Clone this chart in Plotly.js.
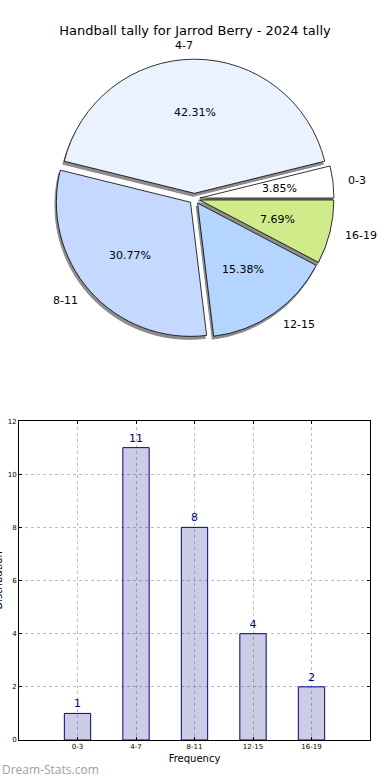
<!DOCTYPE html>
<html>
<head>
<meta charset="utf-8">
<script src="https://cdn.plot.ly/plotly-3.0.1.min.js"></script>
<style>html,body{margin:0;padding:0;background:#fff;}#chart{width:390px;height:780px;}</style>
</head>
<body>
<div id="chart"></div>
<script>
const categories = ["0-3", "4-7", "8-11", "12-15", "16-19"];
const counts = [1, 11, 8, 4, 2];
const sliceColors = ["#ffffff", "#eaf2ff", "#c5d8ff", "#b3d5ff", "#d0eb8a"];
const pulls = [0.04, 0.04, 0.04, 0.04, 0.04];
const titleText = "Handball tally for Jarrod Berry - 2024 tally";
const xTitle = "Frequency";
const yTitle = "Distribution";
const yTicks = [0, 2, 4, 6, 8, 10, 12];

const font = "DejaVu Sans, sans-serif";
const W = 390, H = 780;
const margin = {l: 19, r: 20, t: 0, b: 40};
const plotW = W - margin.l - margin.r, plotH = H - margin.t - margin.b;
const pieDomainX = [0.0, 1.0];
const pieDomainY = [0.543, 0.92];

const total = counts.reduce((a, b) => a + b, 0);
const maxPull = Math.max(...pulls);
const domWpx = plotW * (pieDomainX[1] - pieDomainX[0]);
const domHpx = plotH * (pieDomainY[1] - pieDomainY[0]);
const rPx = Math.min(domWpx, domHpx) / (2 + 2 * maxPull);
// hidden text axes: wider than the pie domain, same centre and scale (1 unit = pie radius)
const textDomX = [0, 1], textDomY = [0.46, 1.0];
const cX = (pieDomainX[0] + pieDomainX[1]) / 2, cY = (pieDomainY[0] + pieDomainY[1]) / 2;
const x2Range = [(textDomX[0] - cX) * plotW / rPx, (textDomX[1] - cX) * plotW / rPx];
const y2Range = [(textDomY[0] - cY) * plotH / rPx, (textDomY[1] - cY) * plotH / rPx];
// first slice starts at 3 o'clock, counterclockwise (Plotly ends the first ccw slice at "rotation")
const rotation = 90 - 360 * counts[0] / total;

const shadow = {
  type: "pie", values: counts, labels: categories, sort: false,
  direction: "counterclockwise", rotation: rotation, pull: pulls,
  marker: {colors: categories.map(() => "#8c8c8c"), line: {color: "#8c8c8c", width: 1}},
  textinfo: "none", hoverinfo: "skip", showlegend: false,
  domain: {x: [pieDomainX[0] - 0.008, pieDomainX[1] - 0.008], y: [pieDomainY[0] - 0.004, pieDomainY[1] - 0.004]}
};
const main = {
  type: "pie", values: counts, labels: categories, sort: false,
  direction: "counterclockwise", rotation: rotation, pull: pulls,
  marker: {colors: sliceColors, line: {color: "#000", width: 0.8}},
  textinfo: "none", showlegend: false, domain: {x: pieDomainX, y: pieDomainY}
};
const bars = {
  type: "bar", x: categories, y: counts, width: 0.45,
  marker: {color: "rgba(0,0,128,0.2)", line: {color: "#00008b", width: 1}},
  text: counts.map(String), textposition: "outside", cliponaxis: false,
  textfont: {family: font, size: 11, color: "#00008b"},
  xaxis: "x", yaxis: "y", showlegend: false
};

const pieAnnotations = [];
let acc = 0;
counts.forEach((v, i) => {
  const mid = (acc + v / 2) / total * 2 * Math.PI;
  acc += v;
  const c = Math.cos(mid), s = Math.sin(mid);
  const pct = (100 * v / total).toFixed(2) + "%";
  const rp = 0.6 + pulls[i], rl = 1.1 + pulls[i];
  pieAnnotations.push({
    xref: "x2", yref: "y2", x: rp * c, y: rp * s, text: pct, showarrow: false,
    xanchor: "center", yanchor: "middle", font: {family: font, size: 11, color: "#000"}
  });
  pieAnnotations.push({
    xref: "x2", yref: "y2", x: rl * c, y: rl * s, text: categories[i], showarrow: false,
    xanchor: c > 0.01 ? "left" : "right", yanchor: "middle",
    font: {family: font, size: 11, color: "#000"}
  });
});

const layout = {
  width: W, height: H, margin: margin,
  paper_bgcolor: "#fff", plot_bgcolor: "#fff",
  font: {family: font, color: "#000"},
  title: {text: titleText, font: {family: font, size: 13, color: "#000"}, x: 0.5, xanchor: "center", y: 1 - 30 / H, yanchor: "middle"},
  xaxis: {
    domain: [0, 1], range: [-1, 5], type: "category",
    tickfont: {family: font, size: 7}, ticks: "inside", ticklen: 3, tickcolor: "#000",
    showgrid: true, gridcolor: "#bdbdbd", griddash: "dot", gridwidth: 1,
    showline: true, linecolor: "#000", linewidth: 1, mirror: "allticks",
    title: {text: xTitle, font: {family: font, size: 10}, standoff: 4}, zeroline: false
  },
  yaxis: {
    domain: [0, 0.431], range: [0, 12], tickvals: yTicks,
    tickfont: {family: font, size: 7}, ticks: "inside", ticklen: 3, tickcolor: "#000",
    showgrid: true, gridcolor: "#bdbdbd", griddash: "dot", gridwidth: 1,
    showline: true, linecolor: "#000", linewidth: 1, mirror: "allticks",
    zeroline: false, automargin: false
  },
  xaxis2: {domain: textDomX, range: x2Range, visible: false, anchor: "y2"},
  yaxis2: {domain: textDomY, range: y2Range, visible: false, anchor: "x2"},
  annotations: pieAnnotations.concat([
    {
      text: yTitle, textangle: -90, xref: "paper", yref: "paper",
      x: (-1 - margin.l) / plotW, y: 0.431 / 2, xanchor: "center", yanchor: "middle",
      showarrow: false, font: {family: font, size: 10, color: "#000"}
    },
    {
      text: "Dream-Stats.com", xref: "paper", yref: "paper", x: -0.054, y: -0.04,
      xanchor: "left", yanchor: "middle", showarrow: false,
      font: {family: "Open Sans, sans-serif", size: 12, color: "#a0a0a0"}
    }
  ])
};

const anchorTrace = {type: "scatter", x: [0], y: [0], xaxis: "x2", yaxis: "y2", mode: "markers",
  marker: {opacity: 0}, hoverinfo: "skip", showlegend: false};

Plotly.newPlot("chart", [anchorTrace, shadow, main, bars], layout, {staticPlot: true, displayModeBar: false});
</script>
</body>
</html>
